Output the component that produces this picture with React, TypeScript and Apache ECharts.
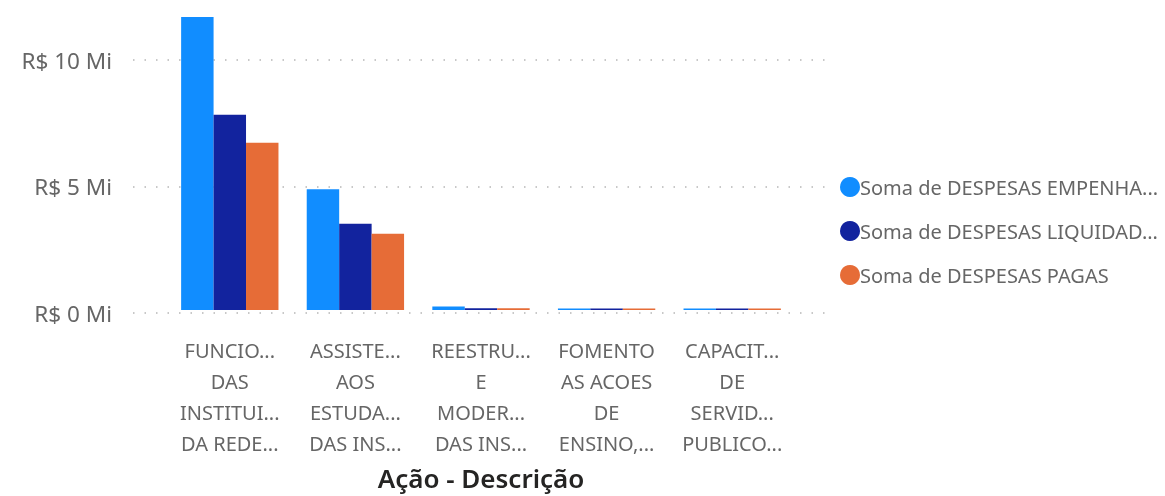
import React, { useEffect, useRef } from "react";
import * as echarts from "echarts";

const categories = [
  "FUNCIO...\nDAS\nINSTITUI...\nDA REDE...",
  "ASSISTE...\nAOS\nESTUDA...\nDAS INS...",
  "REESTRU...\nE\nMODER...\nDAS INS...",
  "FOMENTO\nAS ACOES\nDE\nENSINO,...",
  "CAPACIT...\nDE\nSERVID...\nPUBLICO...",
];
const seriesNames = [
  "Soma de DESPESAS EMPENHA...",
  "Soma de DESPESAS LIQUIDAD...",
  "Soma de DESPESAS PAGAS",
];
const empenhadas = [11.7, 4.82, 0.14, 0.06, 0.06];
const liquidadas = [7.79, 3.44, 0.07, 0.06, 0.06];
const pagas = [6.68, 3.04, 0.07, 0.06, 0.06];
const yTicks = [0, 5, 10];
const colors = ["#118DFF", "#12239E", "#E66C37"];

export default function App() {
  const ref = useRef<HTMLDivElement>(null);
  useEffect(() => {
    if (!ref.current) return;
    const chart = echarts.init(ref.current, undefined, { renderer: "svg" });
    const font = "'Segoe UI', 'Noto Sans', sans-serif";
    const data = [empenhadas, liquidadas, pagas];
    chart.setOption({
      animation: false,
      textStyle: { fontFamily: font },
      grid: [
        { left: 133, right: 335, top: 60, bottom: 183 },
        { left: 167, right: 370, top: 9.4, bottom: 183 },
      ],
      legend: {
        orient: "vertical",
        left: 835,
        top: 172,
        icon: "circle",
        itemWidth: 20,
        itemHeight: 20,
        itemGap: 24,
        textStyle: { fontSize: 20, color: "#666666", fontFamily: font, padding: [0, 0, 0, -5] },
        data: seriesNames,
      },
      xAxis: [
        { type: "value", gridIndex: 0, show: false, min: 0, max: 1 },
        {
          type: "category",
          gridIndex: 1,
          data: categories,
          axisLine: { show: false },
          axisTick: { show: false },
          axisLabel: {
            interval: 0,
            fontSize: 20,
            color: "#666666",
            lineHeight: 31,
            margin: 25,
            fontFamily: font,
          },
          name: "Ação - Descrição",
          nameLocation: "middle",
          nameGap: 155,
          nameTextStyle: { fontSize: 26, color: "#252423", fontWeight: 600, fontFamily: font },
        },
      ],
      yAxis: [
        {
          type: "value",
          gridIndex: 0,
          min: yTicks[0],
          max: yTicks[yTicks.length - 1],
          interval: yTicks[1] - yTicks[0],
          axisLine: { show: false },
          axisTick: { show: false },
          axisLabel: {
            formatter: (v: number) => `R$ ${v} Mi`,
            fontSize: 22.5,
            color: "#666666",
            margin: 21,
            fontFamily: font,
          },
          splitLine: { lineStyle: { color: "#c8c8c8", width: 2, type: [1.5, 10] } },
        },
        { type: "value", gridIndex: 1, min: 0, max: 12, show: false },
      ],
      series: seriesNames.map((name, i) => ({
        name,
        type: "bar",
        xAxisIndex: 1,
        yAxisIndex: 1,
        data: data[i],
        itemStyle: { color: colors[i] },
        barGap: "0%",
        barCategoryGap: "22.5%",
      })),
    });
    return () => chart.dispose();
  }, []);
  return (
    <div
      ref={ref}
      style={{ position: "fixed", left: 0, top: 0, width: 1165, height: 496 }}
    />
  );
}
